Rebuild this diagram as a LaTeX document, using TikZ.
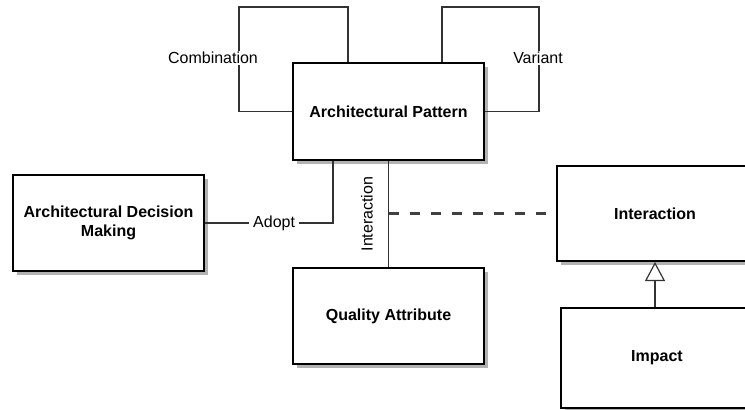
\documentclass[tikz,border=0pt]{standalone}
\usepackage{fontspec}
\setmainfont{Liberation Sans}
\usetikzlibrary{positioning,shadows,arrows.meta}

\tikzset{
  entity/.style={draw, line width=2pt, fill=white, minimum width=191pt,
    minimum height=96pt, align=center, font=\bfseries\fontsize{16}{19}\selectfont,
    drop shadow={shadow xshift=4pt, shadow yshift=-4pt, fill=black!30, opacity=1}},
  assoc/.style={line width=1.2pt, draw=black!80},
  role/.style={fill=white, inner xsep=4pt, inner ysep=1pt, font=\fontsize{16}{19}\selectfont},
  dashline/.style={line width=2.2pt, draw=black!75, dash pattern=on 10pt off 11pt},
}

\begin{document}
\begin{tikzpicture}[x=1pt,y=-1pt,on grid]
   \useasboundingbox (0,0) rectangle (745,410);
   \node[entity,minimum height=97pt] (pattern) at (388.5,111.5) {Architectural Pattern};
   \node[entity] (decision) at (108.5,223) {Architectural Decision\\Making};
   \node[entity] (quality) [below=204.5pt of pattern] {Quality Attribute};
   \node[entity,minimum width=196pt,minimum height=95pt] (interaction) at (655,213.5) {Interaction};
   \node[entity,minimum width=192pt,minimum height=100pt] (impact) [below right=144.5pt and 2pt of interaction] {Impact};

   % self associations
   \draw[assoc] ([xshift=-40.5pt]pattern.north) -- ++(0,-55) -| ([xshift=-53pt]pattern.west) -- (pattern.west);
   \draw[assoc] ([xshift=53.5pt]pattern.north) -- ++(0,-55) -| ([xshift=54pt]pattern.east) -- (pattern.east);
   \node[role] (combination) at (213,58) {Combination};
   \node[role,inner xsep=1pt] (variant) at (538,58) {Variant};

   \draw[assoc] ([xshift=-55.5pt]pattern.south) |- node[role,pos=0.73] {Adopt} (decision.east);
   \draw[assoc] (pattern.south) -- node[rotate=90,anchor=south,inner xsep=0pt,inner ysep=15pt,
      font=\fontsize{16}{19}\selectfont] {Interaction} (pattern.south |- quality.north);
   \draw[dashline] (pattern.south |- interaction.west) -- (interaction.west);
   \draw[assoc,-{Triangle[open,width=20pt,length=19pt]}] (impact.north -| interaction.south) -- (interaction.south);
\end{tikzpicture}
\end{document}
